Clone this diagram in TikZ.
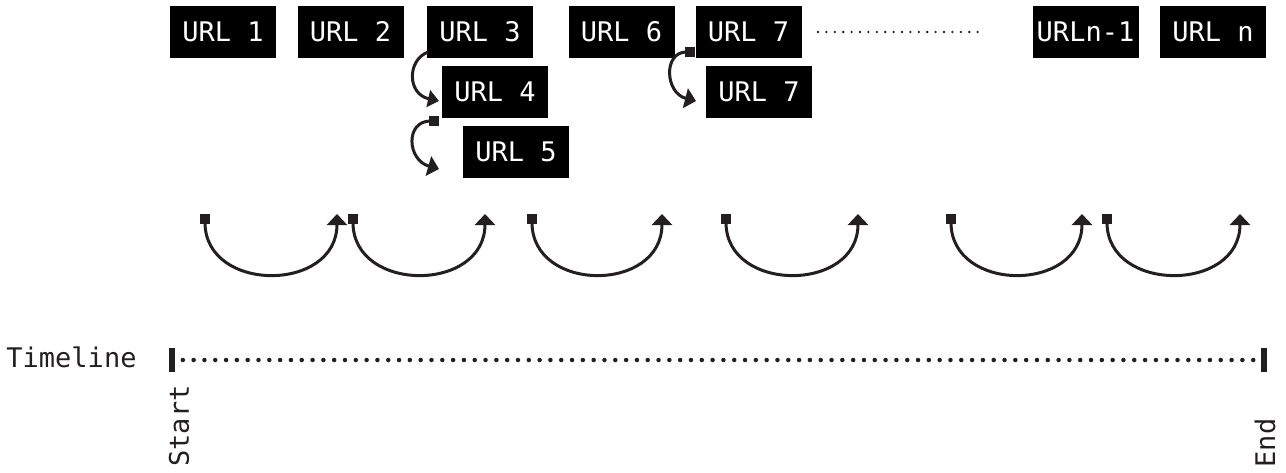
\documentclass[tikz,border=0pt]{standalone}
\usepackage{fontspec}
\newfontfamily\monofont{DejaVu Sans Mono}
\usetikzlibrary{arrows.meta}
\definecolor{ink}{HTML}{231F20}
\begin{document}
\begin{tikzpicture}[x=1pt,y=-1pt,
  txt/.style={font=\monofont\fontsize{27}{31}\selectfont,inner sep=0pt},
  url/.style={txt,fill=black,text=white,minimum width=106pt,minimum height=52pt},
  lbl/.style={txt,text=ink},
  hop/.style={line width=3pt,draw=ink,{Square[length=10pt,width=10pt]}-{Triangle[length=11pt,width=20pt]}},
  jump/.style={line width=3pt,draw=ink,-{Triangle[length=11pt,width=17pt]}},
  bar/.style={fill=ink,minimum width=6pt,minimum height=24pt,inner sep=0pt}]
\useasboundingbox (0,0) rectangle (1286,472);

% URL boxes
\node[url] (u1) at (223,32) {URL 1};
\node[url] (u2) at (350.5,32) {URL 2};
\node[url] (u3) at (480,32) {URL 3};
\node[url] (u4) at (495,92) {URL 4};
\node[url] (u5) at (516,152) {URL 5};
\node[url] (u6) at (621.5,32) {URL 6};
\node[url] (u7) at (748.5,32) {URL 7};
\node[url] (u7b) at (759,92) {URL 7};
\node[url] (un1) at (1085.5,32) {URLn-1};
\node[url] (un) at (1213,32) {URL n};

% ellipsis between URL 7 and URLn-1
\coordinate (d1) at (818,32);
\coordinate (d2) at (985,32);
\draw[ink,line width=2.6pt,dash pattern=on 0pt off 8.4pt,line cap=round] (d1) -- (d2);

% small redirect arrows
\coordinate (j1s) at (428,52);
\coordinate (j1e) at (439,101);
\draw[jump] (j1s) .. controls (407,60) and (407,94) .. (j1e);
\coordinate (j2s) at (439,121);
\coordinate (j2e) at (439,169);
\draw[hop] (j2s) .. controls (405,121) and (407,160) .. (j2e);
\coordinate (j3s) at (695,52);
\coordinate (j3e) at (696,101);
\draw[hop] (j3s) .. controls (663,52) and (665,93) .. (j3e);

% bottom hops
\foreach \i/\a/\b in {1/205/337,2/353/485,3/532/662,4/726/858,5/951/1082,6/1107/1240}{
  \coordinate (s\i) at (\a,214);
  \coordinate (e\i) at (\b,214);
  \draw[hop] (s\i) .. controls (\a,293) and (\b,293) .. (e\i);
}

% timeline
\node[lbl] (tl) at (71.5,357) {Timeline};
\node[bar] (tb) at (172,360) {};
\node[bar] (te) at (1264,360) {};
\draw[ink,line width=4.5pt,dash pattern=on 0pt off 10.812pt,line cap=round] (tb.center) -- (te.center);
\node[lbl,rotate=90] (st) at (179,426) {Start};
\node[lbl,rotate=90] (en) at (1265,443) {End};
\end{tikzpicture}
\end{document}
